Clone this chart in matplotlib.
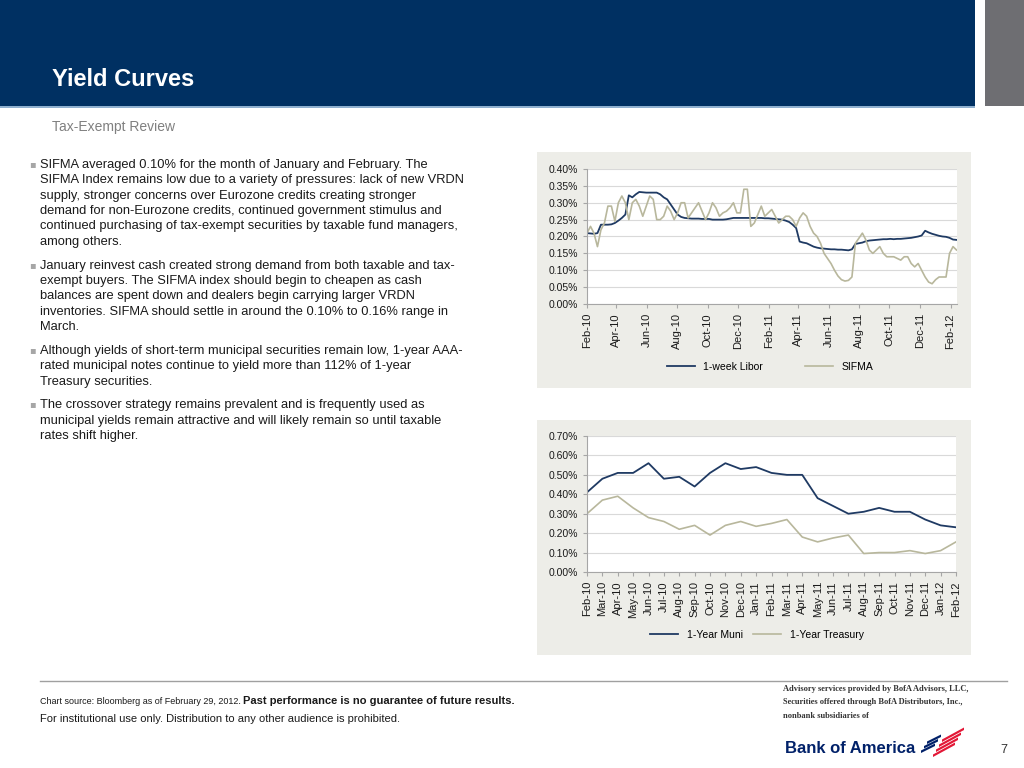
import numpy as np
import pandas as pd
import matplotlib
matplotlib.use('Agg')
import matplotlib.pyplot as plt
import matplotlib.dates as mdates
from matplotlib.patches import Rectangle, Polygon
from matplotlib.ticker import FuncFormatter, MultipleLocator

plt.rcParams['font.family'] = ['Liberation Sans', 'DejaVu Sans']

# weekly data, top chart (values in %)
week_start = '2010-02-01'
libor_1w = [0.210, 0.209, 0.208, 0.210, 0.235, 0.235, 0.235, 0.236, 0.240, 0.247,
            0.255, 0.265, 0.322, 0.316, 0.325, 0.332, 0.331, 0.330, 0.330, 0.330,
            0.330, 0.325, 0.316, 0.310, 0.295, 0.280, 0.265, 0.258, 0.255, 0.254,
            0.253, 0.253, 0.253, 0.252, 0.252, 0.252, 0.250, 0.250, 0.250, 0.250,
            0.251, 0.253, 0.255, 0.255, 0.255, 0.255, 0.255, 0.255, 0.255, 0.255,
            0.255, 0.254, 0.254, 0.253, 0.252, 0.251, 0.250, 0.247, 0.243, 0.235,
            0.225, 0.185, 0.182, 0.180, 0.175, 0.170, 0.167, 0.165, 0.164, 0.163,
            0.162, 0.162, 0.161, 0.161, 0.160, 0.159, 0.162, 0.178, 0.180, 0.182,
            0.186, 0.188, 0.189, 0.190, 0.191, 0.192, 0.192, 0.193, 0.192, 0.193,
            0.193, 0.194, 0.195, 0.196, 0.198, 0.200, 0.203, 0.217, 0.212, 0.208,
            0.205, 0.202, 0.200, 0.199, 0.196, 0.191, 0.190]
sifma = [0.21, 0.23, 0.21, 0.17, 0.22, 0.24, 0.29, 0.29, 0.245, 0.30,
         0.32, 0.30, 0.25, 0.30, 0.31, 0.29, 0.26, 0.29, 0.32, 0.31,
         0.25, 0.25, 0.26, 0.29, 0.275, 0.25, 0.27, 0.30, 0.30, 0.255,
         0.27, 0.285, 0.30, 0.275, 0.25, 0.27, 0.30, 0.285, 0.26, 0.27,
         0.275, 0.285, 0.30, 0.27, 0.27, 0.34, 0.34, 0.23, 0.24, 0.265,
         0.29, 0.26, 0.27, 0.28, 0.26, 0.24, 0.25, 0.26, 0.26, 0.25,
         0.23, 0.255, 0.27, 0.26, 0.23, 0.21, 0.20, 0.18, 0.15, 0.135,
         0.12, 0.10, 0.083, 0.072, 0.068, 0.07, 0.08, 0.18, 0.195, 0.21,
         0.19, 0.16, 0.15, 0.16, 0.17, 0.15, 0.14, 0.14, 0.14, 0.135,
         0.13, 0.14, 0.14, 0.12, 0.11, 0.12, 0.10, 0.08, 0.065, 0.06,
         0.072, 0.08, 0.08, 0.08, 0.15, 0.17, 0.16]

# monthly data, bottom chart (values in %)
months = ['Feb-10', 'Mar-10', 'Apr-10', 'May-10', 'Jun-10', 'Jul-10', 'Aug-10',
          'Sep-10', 'Oct-10', 'Nov-10', 'Dec-10', 'Jan-11', 'Feb-11', 'Mar-11',
          'Apr-11', 'May-11', 'Jun-11', 'Jul-11', 'Aug-11', 'Sep-11', 'Oct-11',
          'Nov-11', 'Dec-11', 'Jan-12', 'Feb-12']
muni_1y = [0.41, 0.48, 0.51, 0.51, 0.56, 0.48, 0.49, 0.44, 0.51, 0.56, 0.53, 0.54,
           0.51, 0.50, 0.50, 0.38, 0.34, 0.30, 0.31, 0.33, 0.31, 0.31, 0.27, 0.24, 0.23]
treasury_1y = [0.30, 0.37, 0.39, 0.33, 0.28, 0.26, 0.22, 0.24, 0.19, 0.24, 0.26, 0.235,
               0.25, 0.27, 0.18, 0.155, 0.175, 0.19, 0.095, 0.10, 0.10, 0.11, 0.095, 0.11, 0.155]

bullets = [
    ["SIFMA averaged 0.10% for the month of January and February. The",
     "SIFMA Index remains low due to a variety of pressures: lack of new VRDN",
     "supply, stronger concerns over Eurozone credits creating stronger",
     "demand for non-Eurozone credits, continued government stimulus and",
     "continued purchasing of tax-exempt securities by taxable fund managers,",
     "among others."],
    ["January reinvest cash created strong demand from both taxable and tax-",
     "exempt buyers. The SIFMA index should begin to cheapen as cash",
     "balances are spent down and dealers begin carrying larger VRDN",
     "inventories. SIFMA should settle in around the 0.10% to 0.16% range in",
     "March."],
    ["Although yields of short-term municipal securities remain low, 1-year AAA-",
     "rated municipal notes continue to yield more than 112% of 1-year",
     "Treasury securities."],
    ["The crossover strategy remains prevalent and is frequently used as",
     "municipal yields remain attractive and will likely remain so until taxable",
     "rates shift higher."],
]
bullet_y = [168, 268.7, 354, 408.3]

disclaimer = ['Advisory services provided by BofA Advisors, LLC,',
              'Securities offered through BofA Distributors, Inc.,',
              'nonbank subsidiaries of']

W, H = 1024, 768
NAVY = '#003062'
LINE_DARK = '#1F3A63'
LINE_LIGHT = '#B8B79C'
PANEL = '#EDEDE8'
GRID = '#D9D9D9'

fig = plt.figure(figsize=(W / 100, H / 100), dpi=100)


def box(l, t, r, b):
    return [l / W, 1 - b / H, (r - l) / W, (b - t) / H]


def fx(x):
    return x / W


def fy(y):
    return 1 - y / H


def rect(l, t, r, b, color, z=-10):
    fig.patches.append(Rectangle((fx(l), fy(b)), (r - l) / W, (b - t) / H,
                                 transform=fig.transFigure, color=color, zorder=z, lw=0))


def poly(pts, color):
    fig.patches.append(Polygon([(fx(a), fy(b)) for a, b in pts], closed=True,
                               transform=fig.transFigure, color=color, lw=0))


# header
rect(0, 0, 975, 106, NAVY)
rect(0, 106, 975, 108, '#8FB0CF')
rect(985, 0, 1024, 106, '#6E6E72')
fig.text(fx(52), fy(86), 'Yield Curves', color='white', fontsize=17, fontweight='bold', va='baseline')
fig.text(fx(52), fy(131), 'Tax-Exempt Review', color='#808080', fontsize=10, va='baseline')

# bullets
for lines, y0 in zip(bullets, bullet_y):
    fig.text(fx(29), fy(y0 - 1), '\u25aa', color='#A6A6A6', fontsize=7, va='baseline',
             family='DejaVu Sans')
    for i, line in enumerate(lines):
        fig.text(fx(40), fy(y0 + i * 15.3), line, color='#1A1A1A', fontsize=9.25, va='baseline')

# chart panels
rect(537, 152, 971, 388, PANEL)
rect(537, 420, 971, 655, PANEL)

pct = FuncFormatter(lambda v, p: '%.2f%%' % v)


def style(ax):
    for s in ['top', 'right']:
        ax.spines[s].set_visible(False)
    for s in ['left', 'bottom']:
        ax.spines[s].set_color('#A6A6A6')
        ax.spines[s].set_linewidth(0.8)
    ax.grid(axis='y', color=GRID, lw=0.8)
    ax.set_axisbelow(True)
    ax.tick_params(colors='#A6A6A6', labelcolor='#1A1A1A', labelsize=7.5, length=3, width=0.8)
    ax.yaxis.set_major_formatter(pct)


# top chart
dates = pd.date_range(week_start, periods=len(libor_1w), freq='7D')
ax1 = fig.add_axes(box(587, 169, 957, 304))
ax1.plot(dates, libor_1w, color=LINE_DARK, lw=1.3, label='1-week Libor')
ax1.plot(dates, sifma, color=LINE_LIGHT, lw=1.2, label='SIFMA')
ax1.set_ylim(0, 0.40)
ax1.yaxis.set_major_locator(MultipleLocator(0.05))
ax1.set_xlim(dates[0], pd.Timestamp('2012-02-14'))
ax1.set_xticks(pd.date_range('2010-02-01', '2012-02-01', freq='2MS'))
ax1.xaxis.set_major_formatter(mdates.DateFormatter('%b-%y'))
style(ax1)
ax1.tick_params(axis='x', labelsize=8, rotation=90)
ax1.legend(loc='center', bbox_to_anchor=(fx(770), fy(367)), bbox_transform=fig.transFigure,
           ncol=2, frameon=False, fontsize=7.5, handlelength=2.7, columnspacing=4.0)

# bottom chart
x = np.arange(len(months))
ax2 = fig.add_axes(box(587, 436, 956, 572))
ax2.plot(x, muni_1y, color=LINE_DARK, lw=1.3, label='1-Year Muni')
ax2.plot(x, treasury_1y, color=LINE_LIGHT, lw=1.2, label='1-Year Treasury')
ax2.set_ylim(0, 0.70)
ax2.yaxis.set_major_locator(MultipleLocator(0.10))
ax2.set_xlim(0, len(months) - 1)
ax2.set_xticks(x)
ax2.set_xticklabels(months, rotation=90)
style(ax2)
ax2.tick_params(axis='x', labelsize=8)
ax2.legend(loc='center', bbox_to_anchor=(fx(757), fy(635)), bbox_transform=fig.transFigure,
           ncol=2, frameon=False, fontsize=7.5, handlelength=2.7, columnspacing=1.0)

# footer
fig.add_artist(plt.Line2D([fx(40), fx(1007)], [fy(681), fy(681)], color='#A0A0A0', lw=1,
                          transform=fig.transFigure))
t1 = fig.text(fx(40), fy(704), 'Chart source: Bloomberg as of February 29, 2012. ',
              fontsize=6.5, color='#1A1A1A', va='baseline')
fig.canvas.draw()
bb = t1.get_window_extent()
fig.text(bb.x1 / fig.dpi / fig.get_figwidth(), fy(704), 'Past performance is no guarantee of future results.',
         fontsize=8, fontweight='bold', color='#1A1A1A', va='baseline')
fig.text(fx(40), fy(722), 'For institutional use only. Distribution to any other audience is prohibited.',
         fontsize=8, color='#1A1A1A', va='baseline')

for i, line in enumerate(disclaimer):
    fig.text(fx(783), fy(691 + i * 13.5), line, fontsize=6, color='#333333', va='baseline',
             family='Liberation Serif', fontweight='bold')
fig.text(fx(785), fy(753), 'Bank of America', fontsize=12, fontweight='bold', color='#012169',
         va='baseline')

# flag logo: blue stripes upper left, red stripes lower right
for k in range(3):
    x0, y0 = 921 + k * 3, 753 - k * 4.5
    poly([(x0, y0), (x0 + 14, y0 - 7), (x0 + 14, y0 - 9.5), (x0, y0 - 2.5)], '#012169')
for k in range(4):
    x0, y0 = 933 + k * 3, 757 - k * 5
    poly([(x0, y0), (x0 + 22, y0 - 12), (x0 + 22, y0 - 14.5), (x0, y0 - 2.5)], '#E31837')
fig.text(fx(1000), fy(753), '7', fontsize=9, color='#333333', va='baseline')

fig.savefig('out.png', dpi=100)
